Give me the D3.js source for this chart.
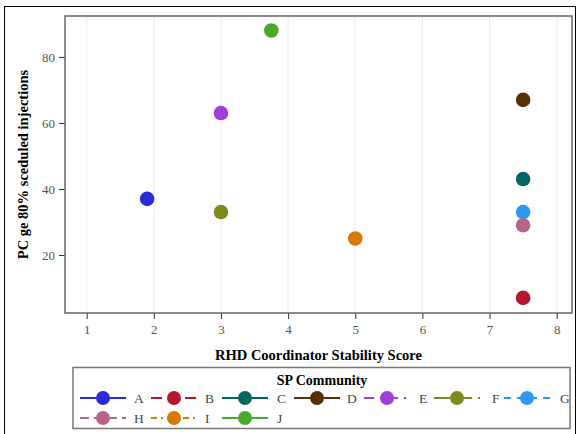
<!DOCTYPE html>
<html><head><meta charset="utf-8">
<script src="https://cdn.jsdelivr.net/npm/d3@7"></script>
<style>body{margin:0;background:#fff}svg{display:block}</style>
</head><body>
<svg id="c" width="578" height="434"></svg>
<script>
const communities = ["A","B","C","D","E","F","G","H","I","J"];
const stabilityScore = [1.9, 7.5, 7.5, 7.5, 3, 3, 7.5, 7.5, 5, 3.75];
const pctScheduled = [37, 7, 43, 67, 63, 33, 33, 29, 25, 88];
const colors = ["#2b2bdb","#b5172f","#02675e","#553005","#9e3fdc","#7f8a1e","#2b98f5","#b6648a","#d87a05","#4aa92b"];
const dashes = [null, "11,6", null, null, "10,6,2,6", "16,6", "7,6", "9,5", "6,4,2,4", null];
const xTicks = [1,2,3,4,5,6,7,8];
const yTicks = [20,40,60,80];

const font = "'Liberation Serif', 'Times New Roman', serif";
const svg = d3.select("#c");
const L = 65, R = 572, T = 16, B = 313;
const x = d3.scaleLinear().domain([0.677, 8.228]).range([L, R]);
const y = d3.scaleLinear().domain([2.42, 92.4]).range([B, T]);

// outer border
svg.append("rect").attr("x",4.5).attr("y",6.5).attr("width",571).attr("height",440)
  .attr("fill","none").attr("stroke","#000").attr("stroke-width",1);

// gridlines
svg.append("g").selectAll("line").data(xTicks).join("line")
  .attr("x1",d=>x(d)).attr("x2",d=>x(d)).attr("y1",T).attr("y2",B)
  .attr("stroke","#ebebeb").attr("stroke-width",1);

// axes
const xa = svg.append("g").attr("transform",`translate(0,${B})`)
  .call(d3.axisBottom(x).tickValues(xTicks).tickSize(6).tickPadding(6).tickFormat(d3.format("d")));
const ya = svg.append("g").attr("transform",`translate(${L},0)`)
  .call(d3.axisLeft(y).tickValues(yTicks).tickSize(6).tickPadding(4).tickFormat(d3.format("d")));
[xa,ya].forEach(a=>{
  a.select(".domain").remove();
  a.selectAll(".tick line").attr("stroke","#333");
  a.selectAll(".tick text").attr("fill","#555").style("font-family",font).style("font-size","13px");
});

// frame
svg.append("rect").attr("x",L).attr("y",T).attr("width",R-L).attr("height",B-T)
  .attr("fill","none").attr("stroke","#666").attr("stroke-width",1.5);

// points
const data = communities.map((c,i)=>({c, x:stabilityScore[i], y:pctScheduled[i], col:colors[i]}));
svg.append("g").selectAll("circle").data(data).join("circle")
  .attr("cx",d=>x(d.x)).attr("cy",d=>y(d.y)).attr("r",7.3)
  .attr("fill",d=>d.col);

// axis titles
svg.append("text").attr("x",(L+R)/2).attr("y",360).attr("text-anchor","middle")
  .style("font-family",font).style("font-size","14.5px").style("font-weight","bold")
  .text("RHD Coordinator Stability Score");
svg.append("text").attr("transform",`translate(28,${(T+B)/2}) rotate(-90)`).attr("text-anchor","middle")
  .style("font-family",font).style("font-size","14.5px").style("font-weight","bold")
  .text("PC ge 80% sceduled injections");

// legend
const lg = svg.append("g");
lg.append("rect").attr("x",73).attr("y",367.5).attr("width",497).attr("height",61)
  .attr("fill","none").attr("stroke","#777").attr("stroke-width",1.5);
lg.append("text").attr("x",322).attr("y",385).attr("text-anchor","middle")
  .style("font-family",font).style("font-size","14px").style("font-weight","bold").text("SP Community");
const colX = [103,174,245,317,387,457,527];
const labelOff = [31,31,32,30,32,35,33];
data.forEach((d,i)=>{
  const col = i % 7, row = Math.floor(i/7);
  const cx = colX[col], cy = row===0 ? 398 : 418;
  const g = lg.append("g");
  g.append("line").attr("x1",cx-23).attr("x2",cx+23).attr("y1",cy).attr("y2",cy)
    .attr("stroke",d.col).attr("stroke-width",2).attr("stroke-dasharray",dashes[i]);
  g.append("circle").attr("cx",cx).attr("cy",cy).attr("r",7).attr("fill",d.col);
  g.append("text").attr("x",cx+labelOff[col]).attr("y",cy+4.5)
    .attr("fill","#444").style("font-family",font).style("font-size","13.5px").text(d.c);
});
</script>
</body></html>
